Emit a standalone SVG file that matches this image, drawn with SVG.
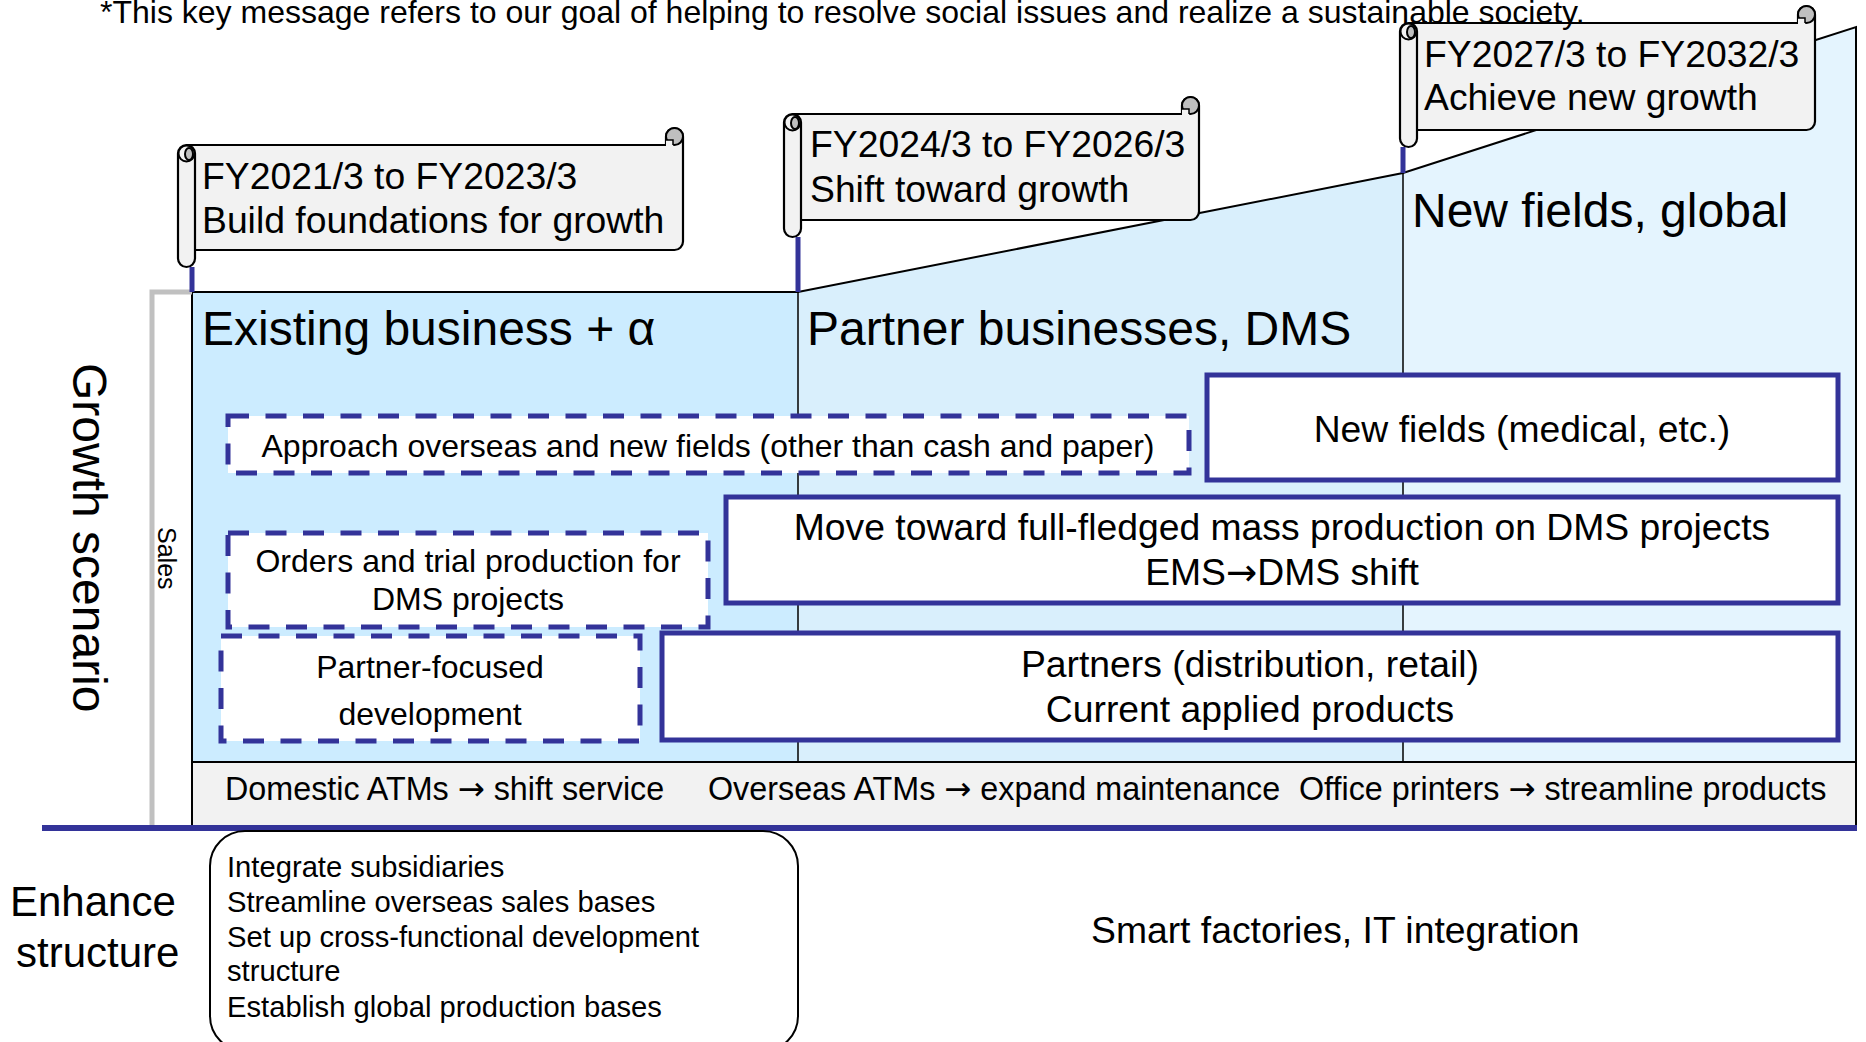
<svg xmlns="http://www.w3.org/2000/svg" width="1866" height="1042" viewBox="0 0 1866 1042">
<style>
text{font-family:"Liberation Sans",Arial,sans-serif;fill:#000}
.ar{font-family:"DejaVu Sans",sans-serif}
.t32{font-size:32px}
.t37{font-size:37.3px}
.t48{font-size:48px}
.t31{font-size:32.3px}
.t29{font-size:29.2px}
.mid{text-anchor:middle}
.dash{fill:#fff;stroke:#333399;stroke-width:5;stroke-dasharray:21 16.5}
.solid{fill:#fff;stroke:#333399;stroke-width:5}
.scroll{fill:#f2f2f2;stroke:#000;stroke-width:2.2;stroke-linejoin:round}
.curl{fill:#bfbfbf;stroke:#000;stroke-width:2}
.edge{fill:none;stroke:#000;stroke-width:2}
.div{fill:none;stroke:#000;stroke-width:1.5}
.blue{fill:none;stroke:#333399;stroke-width:5}
</style>

<!-- zones -->
<g id="zone-existing">
<rect x="192" y="292" width="606" height="470" fill="#ccecff"/>
</g>
<g id="zone-partner">
<path d="M798,292 L1403,173 L1403,762 L798,762 Z" fill="#d9effc"/>
</g>
<g id="zone-new">
<path d="M1403,173 L1856,27 L1856,762 L1403,762 Z" fill="#e4f4fe"/>
</g>
<path class="edge" d="M192,828 V292 H798 L1403,173 L1856,27 V828"/>
<path class="div" d="M798,292 V762 M1403,173 V762"/>

<g id="base-band">
<rect x="192" y="762" width="1664" height="64" fill="#f2f2f2" stroke="#000" stroke-width="2"/>
<text class="t31" x="225" y="800">Domestic ATMs <tspan class="ar">→</tspan> shift service</text>
<text class="t31" x="708" y="800">Overseas ATMs <tspan class="ar">→</tspan> expand maintenance</text>
<text class="t31" x="1299" y="800">Office printers <tspan class="ar">→</tspan> streamline products</text>
</g>

<g id="zone-titles">
<text class="t48" x="202" y="345">Existing business + α</text>
<text class="t48" x="807" y="345">Partner businesses, DMS</text>
<text class="t48" x="1412" y="227">New fields, global</text>
</g>

<!-- sales bracket -->
<g id="sales-axis">
<path d="M192,292 H152 V826" fill="none" stroke="#c0c0c0" stroke-width="5"/>
<text font-size="25" transform="translate(158,527) rotate(90)">Sales</text>
</g>
<g id="growth-label">
<text class="t48" transform="translate(73,363) rotate(90)">Growth scenario</text>
</g>

<!-- scroll 1 -->
<g id="scroll-1">
<path class="scroll" d="M187,145 H666 V136.5 A8.5,8.5 0 0 1 683,136.5 V241.5 A8.5,8.5 0 0 1 674.5,250 H187 Z"/>
<circle class="curl" cx="674.5" cy="136.5" r="8.5"/>
<path d="M666,140 H673 V146 H666 Z" fill="#f2f2f2"/>
<path d="M666,140 H673 V145" fill="none" stroke="#000" stroke-width="1.5"/>
<rect class="scroll" x="178" y="145" width="17" height="122" rx="8.5"/>
<circle cx="186.5" cy="153.5" r="8" fill="#f2f2f2" stroke="#000" stroke-width="2"/>
<ellipse cx="189" cy="154" rx="4" ry="6" class="curl" stroke-width="1.5"/>
<text class="t37" x="202" y="189">FY2021/3 to FY2023/3</text>
<text class="t37" x="202" y="233">Build foundations for growth</text>
</g>

<!-- scroll 2 -->
<g id="scroll-2">
<path class="scroll" d="M793,114 H1182 V105.5 A8.5,8.5 0 0 1 1199,105.5 V211.5 A8.5,8.5 0 0 1 1190.5,220 H793 Z"/>
<circle class="curl" cx="1190.5" cy="105.5" r="8.5"/>
<path d="M1182,109 H1189 V115 H1182 Z" fill="#f2f2f2"/>
<path d="M1182,109 H1189 V114" fill="none" stroke="#000" stroke-width="1.5"/>
<rect class="scroll" x="784" y="114" width="17" height="123" rx="8.5"/>
<circle cx="792.5" cy="122.5" r="8" fill="#f2f2f2" stroke="#000" stroke-width="2"/>
<ellipse cx="795" cy="123" rx="4" ry="6" class="curl" stroke-width="1.5"/>
<text class="t37" x="810" y="157">FY2024/3 to FY2026/3</text>
<text class="t37" x="810" y="202">Shift toward growth</text>
</g>

<!-- scroll 3 -->
<g id="scroll-3">
<path class="scroll" d="M1409,23 H1798 V14.5 A8.5,8.5 0 0 1 1815,14.5 V121.5 A8.5,8.5 0 0 1 1806.5,130 H1409 Z"/>
<circle class="curl" cx="1806.5" cy="14.5" r="8.5"/>
<path d="M1798,18 H1805 V24 H1798 Z" fill="#f2f2f2"/>
<path d="M1798,18 H1805 V23" fill="none" stroke="#000" stroke-width="1.5"/>
<rect class="scroll" x="1400" y="23" width="17" height="124" rx="8.5"/>
<circle cx="1408.5" cy="31.5" r="8" fill="#f2f2f2" stroke="#000" stroke-width="2"/>
<ellipse cx="1411" cy="32" rx="4" ry="6" class="curl" stroke-width="1.5"/>
<text class="t37" x="1424" y="67">FY2027/3 to FY2032/3</text>
<text class="t37" x="1424" y="110">Achieve new growth</text>
</g>

<text class="t32" x="100" y="23">*This key message refers to our goal of helping to resolve social issues and realize a sustainable society.</text>

<!-- connectors -->
<g id="connectors">
<path class="blue" d="M192,267 V292"/>
<path class="blue" d="M798,237 V292"/>
<path class="blue" d="M1403,147 V173"/>
<path d="M42,828 H1857" fill="none" stroke="#333399" stroke-width="6"/>
</g>

<!-- inner boxes -->
<g id="box-approach">
<rect class="dash" x="228" y="416" width="961" height="57"/>
<text class="t32 mid" x="708" y="457">Approach overseas and new fields (other than cash and paper)</text>
</g>
<g id="box-newfields">
<rect class="solid" x="1207" y="375" width="631" height="105"/>
<text class="t37 mid" x="1522" y="442">New fields (medical, etc.)</text>
</g>
<g id="box-orders">
<rect class="dash" x="228" y="533" width="480" height="94"/>
<text class="t32 mid" x="468" y="572">Orders and trial production for</text>
<text class="t32 mid" x="468" y="610">DMS projects</text>
</g>
<g id="box-mass">
<rect class="solid" x="726" y="497" width="1112" height="106"/>
<text class="t37 mid" x="1282" y="540">Move toward full-fledged mass production on DMS projects</text>
<text class="t37 mid" x="1282" y="585">EMS<tspan class="ar">→</tspan>DMS shift</text>
</g>
<g id="box-partnerdev">
<rect class="dash" x="221" y="636" width="419" height="105"/>
<text class="t32 mid" x="430" y="678">Partner-focused</text>
<text class="t32 mid" x="430" y="725">development</text>
</g>
<g id="box-partners">
<rect class="solid" x="662" y="633" width="1176" height="107"/>
<text class="t37 mid" x="1250" y="677">Partners (distribution, retail)</text>
<text class="t37 mid" x="1250" y="722">Current applied products</text>
</g>

<!-- structure -->
<g id="enhance-label">
<text font-size="42" x="10" y="916">Enhance</text>
<text font-size="42" x="16" y="967">structure</text>
</g>
<g id="box-structure">
<rect x="210" y="831" width="588" height="220" rx="35" fill="#fff" stroke="#000" stroke-width="2"/>
<text class="t29" x="227" y="877">Integrate subsidiaries</text>
<text class="t29" x="227" y="912">Streamline overseas sales bases</text>
<text class="t29" x="227" y="947">Set up cross-functional development</text>
<text class="t29" x="227" y="981">structure</text>
<text class="t29" x="227" y="1017">Establish global production bases</text>
</g>
<g id="smart-factories">
<text class="t37" x="1091" y="943">Smart factories, IT integration</text>
</g>
</svg>
